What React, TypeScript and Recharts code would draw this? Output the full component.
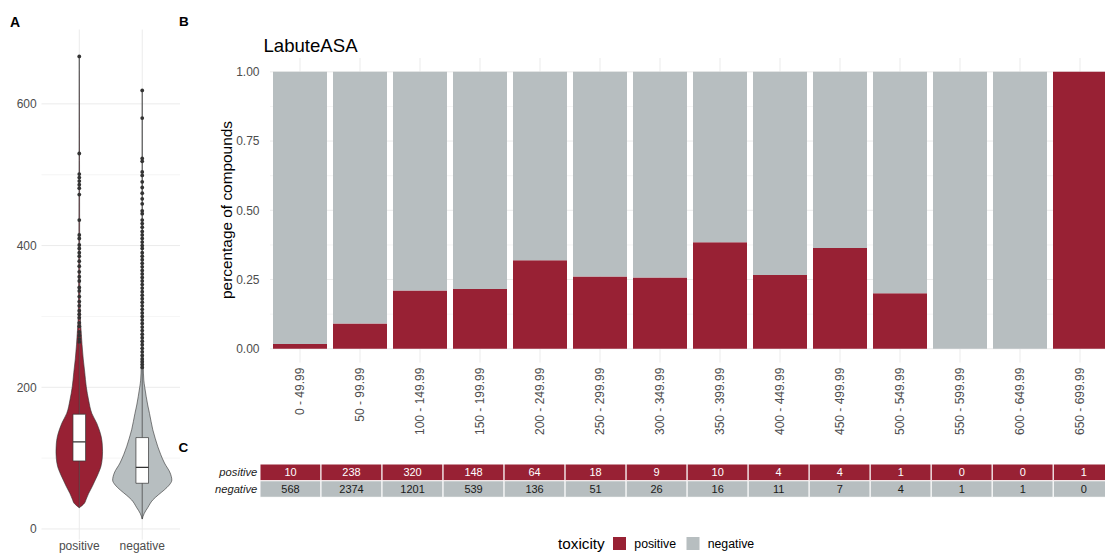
import { ScatterChart, Scatter, BarChart, Bar, XAxis, YAxis, CartesianGrid, LabelList } from "recharts"

const FONT = "'Liberation Sans', Arial, Helvetica, sans-serif"
const RED = "#982134"
const GREY = "#B7BEC0"
const GRID = "#EBEBEB"
const INK = "#333333"
const AXIS_TEXT = "#4D4D4D"

// panel B / C : LabuteASA bins and compound counts
const bins = [
  "0 - 49.99", "50 - 99.99", "100 - 149.99", "150 - 199.99", "200 - 249.99", "250 - 299.99", "300 - 349.99",
  "350 - 399.99", "400 - 449.99", "450 - 499.99", "500 - 549.99", "550 - 599.99", "600 - 649.99", "650 - 699.99",
]
const positiveCounts = [10, 238, 320, 148, 64, 18, 9, 10, 4, 4, 1, 0, 0, 1]
const negativeCounts = [568, 2374, 1201, 539, 136, 51, 26, 16, 11, 7, 4, 1, 1, 0]
const shareTicks = [0, 0.25, 0.5, 0.75, 1]
const shareMinorTicks = [0.125, 0.375, 0.625, 0.875]
const tableRows = ["negative", "positive"]

// panel A : LabuteASA distribution per toxicity class
const groups = ["positive", "negative"]
const asaTicks = [0, 200, 400, 600]
const asaMinorTicks = [100, 300, 500]

// violin profile: value -> half width (x units)
const posViolinValues = [30, 36, 42, 50, 60, 69, 80, 88, 100, 109, 120, 130, 140, 149, 163, 182, 201, 221, 240, 260, 280, 300, 350, 420, 520, 667]
const posViolinHalf = [0, 0.079, 0.11, 0.148, 0.206, 0.254, 0.31, 0.343, 0.365, 0.37, 0.365, 0.349, 0.317, 0.279, 0.2, 0.148, 0.111, 0.087, 0.063, 0.044, 0.029, 0.016, 0.01, 0.006, 0.004, 0]
const negViolinValues = [14, 22, 30, 41, 48, 55, 62, 69, 79, 93, 105, 116, 128, 140, 152, 163, 175, 187, 200, 210, 230, 260, 300, 400, 500, 619]
const negViolinHalf = [0, 0.032, 0.087, 0.168, 0.254, 0.349, 0.429, 0.47, 0.444, 0.354, 0.294, 0.248, 0.206, 0.168, 0.14, 0.116, 0.087, 0.063, 0.04, 0.025, 0.016, 0.01, 0.006, 0.005, 0.003, 0]

// lower whisker, q1, median, q3, upper whisker
const posBox = [30, 96, 123, 162, 261]
const negBox = [14, 64.5, 87, 129, 226]

const posOutliers = [
  667, 530, 501, 496, 491, 486, 481, 472, 436, 415, 410, 401, 396, 390, 385, 378, 371, 363, 356, 350,
  341, 336, 328, 321, 315, 308, 303, 298, 291, 286, 278, 273, 268, 264,
]
const negOutliers = [
  619, 580, 523, 519, 504, 499, 490, 482, 474, 466, 459, 449, 445, 436, 431, 426, 420, 415, 410, 405,
  400, 396, 390, 385, 380, 375, 370, 365, 360, 355, 350, 345, 340, 335, 330, 325, 320, 315, 310, 305,
  300, 295, 290, 285, 280, 275, 270, 265, 260, 255, 250, 245, 240, 236, 232, 228,
]

// share of each toxicity class within a bin
const shareData = bins.map((bin, i) => {
  const total = positiveCounts[i] + negativeCounts[i]
  return { bin, positive: positiveCounts[i] / total, negative: negativeCounts[i] / total }
})
const tableData = bins.map((bin, i) => ({
  bin,
  positive: positiveCounts[i],
  negative: negativeCounts[i],
  posRow: 1,
  negRow: 1,
}))

const halfOutline = (center: number, values: number[], half: number[], side: number) =>
  values.map((v, i) => ({ x: center + side * half[i], y: v }))

const boxOutline = (center: number, box: number[]) => [
  { x: center - 0.1, y: box[1] },
  { x: center + 0.1, y: box[1] },
  { x: center + 0.1, y: box[3] },
  { x: center - 0.1, y: box[3] },
  { x: center - 0.1, y: box[1] },
]

const violins = [
  { center: 1, values: posViolinValues, half: posViolinHalf, box: posBox, outliers: posOutliers, fill: RED },
  { center: 2, values: negViolinValues, half: negViolinHalf, box: negBox, outliers: negOutliers, fill: GREY },
]

const NoDot = () => <g />
const Dot = (p: any) => <circle cx={p.cx} cy={p.cy} r={1.9} fill={INK} />

function ViolinPanel() {
  return (
    <ScatterChart width={180} height={570} margin={{ top: 29.5, right: 0, bottom: 0, left: 0 }}>
      <CartesianGrid yAxisId="minor" vertical={false} stroke={GRID} strokeWidth={0.5} syncWithTicks />
      <CartesianGrid stroke={GRID} strokeWidth={1} syncWithTicks />
      <XAxis
        type="number"
        dataKey="x"
        domain={[0.4, 2.6]}
        ticks={[1, 2]}
        interval={0}
        allowDataOverflow
        tickFormatter={(v) => groups[v - 1]}
        axisLine={false}
        tickLine={false}
        tickSize={0}
        tickMargin={2}
        height={30.4}
        tick={{ fill: AXIS_TEXT, fontSize: 12 }}
      />
      <YAxis
        type="number"
        dataKey="y"
        domain={[-15, 705]}
        ticks={asaTicks}
        interval={0}
        allowDataOverflow
        width={41.5}
        axisLine={false}
        tickLine={false}
        tickSize={0}
        tickMargin={4.8}
        tick={{ fill: AXIS_TEXT, fontSize: 12 }}
      />
      <YAxis yAxisId="minor" hide type="number" domain={[-15, 705]} ticks={asaMinorTicks} allowDataOverflow />
      {violins.map((g) => [
        <Scatter
          key={`l${g.center}`}
          data={halfOutline(g.center, g.values, g.half, -1)}
          line={{ fill: g.fill, stroke: INK, strokeWidth: 0.6 }}
          lineJointType="monotoneY"
          shape={NoDot}
          isAnimationActive={false}
        />,
        <Scatter
          key={`r${g.center}`}
          data={halfOutline(g.center, g.values, g.half, 1)}
          line={{ fill: g.fill, stroke: INK, strokeWidth: 0.6 }}
          lineJointType="monotoneY"
          shape={NoDot}
          isAnimationActive={false}
        />,
      ])}
      {violins.map((g) => (
        <Scatter
          key={`w${g.center}`}
          data={[{ x: g.center, y: g.box[0] }, { x: g.center, y: g.box[4] }]}
          line={{ stroke: INK, strokeWidth: 0.7 }}
          shape={NoDot}
          isAnimationActive={false}
        />
      ))}
      {violins.map((g) => (
        <Scatter
          key={`b${g.center}`}
          data={boxOutline(g.center, g.box)}
          line={{ fill: "#FFFFFF", stroke: INK, strokeWidth: 0.7 }}
          shape={NoDot}
          isAnimationActive={false}
        />
      ))}
      {violins.map((g) => (
        <Scatter
          key={`m${g.center}`}
          data={[{ x: g.center - 0.1, y: g.box[2] }, { x: g.center + 0.1, y: g.box[2] }]}
          line={{ stroke: INK, strokeWidth: 1.3 }}
          shape={NoDot}
          isAnimationActive={false}
        />
      ))}
      {violins.map((g) => (
        <Scatter
          key={`o${g.center}`}
          data={g.outliers.map((v) => ({ x: g.center, y: v }))}
          shape={Dot}
          isAnimationActive={false}
        />
      ))}
    </ScatterChart>
  )
}

const BinTick = (props: any) => {
  const { x, y, payload } = props
  return (
    <text
      x={x}
      y={y}
      transform={`rotate(-90, ${x}, ${y})`}
      textAnchor="end"
      dy="0.35em"
      fill={AXIS_TEXT}
      fontSize={12}
    >
      {payload.value}
    </text>
  )
}

function SharePanel() {
  return (
    <BarChart
      width={930}
      height={440}
      data={shareData}
      barCategoryGap="5%"
      margin={{ top: 58, right: 0, bottom: 0, left: 0 }}
    >
      <CartesianGrid yAxisId="minor" vertical={false} stroke={GRID} strokeWidth={0.5} syncWithTicks />
      <CartesianGrid stroke={GRID} strokeWidth={1} syncWithTicks />
      <XAxis
        dataKey="bin"
        interval={0}
        height={77.4}
        axisLine={false}
        tickLine={false}
        tickSize={0}
        tickMargin={5}
        tick={BinTick}
      />
      <YAxis
        type="number"
        domain={[-0.05, 1.05]}
        ticks={shareTicks}
        interval={0}
        allowDataOverflow
        width={90}
        tickFormatter={(v) => v.toFixed(2)}
        axisLine={false}
        tickLine={false}
        tickSize={0}
        tickMargin={10.5}
        tick={{ fill: AXIS_TEXT, fontSize: 12 }}
      />
      <YAxis yAxisId="minor" hide type="number" domain={[-0.05, 1.05]} ticks={shareMinorTicks} allowDataOverflow />
      <Bar dataKey="positive" stackId="t" fill={RED} isAnimationActive={false} />
      <Bar dataKey="negative" stackId="t" fill={GREY} isAnimationActive={false} />
    </BarChart>
  )
}

function CountTable() {
  return (
    <BarChart
      width={934.3}
      height={70}
      data={tableData}
      barCategoryGap={0}
      margin={{ top: 24, right: 0, bottom: 12.7, left: 0 }}
    >
      <XAxis dataKey="bin" hide />
      <YAxis
        type="number"
        domain={[0, 2]}
        ticks={[0.5, 1.5]}
        interval={0}
        tickFormatter={(v) => tableRows[Math.floor(v)]}
        width={80}
        axisLine={false}
        tickLine={false}
        tickSize={0}
        tickMargin={2.7}
        tick={{ fill: "#1A1A1A", fontSize: 11.2, fontStyle: "italic" }}
      />
      <Bar dataKey="negRow" stackId="r" fill={GREY} stroke="#FFFFFF" strokeWidth={1} isAnimationActive={false}>
        <LabelList dataKey="negative" position="center" fill="#1A1A1A" fontSize={11} />
      </Bar>
      <Bar dataKey="posRow" stackId="r" fill={RED} stroke="#FFFFFF" strokeWidth={1} isAnimationActive={false}>
        <LabelList dataKey="positive" position="center" fill="#FFFFFF" fontSize={11} />
      </Bar>
    </BarChart>
  )
}

export default function App() {
  return (
    <div
      style={{
        position: "absolute",
        left: 0,
        top: 0,
        width: 1105,
        height: 556,
        overflow: "hidden",
        background: "#FFFFFF",
        fontFamily: FONT,
      }}
    >
      <div style={{ position: "absolute", left: 0, top: 0 }}>
        <ViolinPanel />
      </div>
      <div style={{ position: "absolute", left: 180, top: 0 }}>
        <SharePanel />
      </div>
      <div style={{ position: "absolute", left: 180, top: 440 }}>
        <CountTable />
      </div>
      <svg
        width={1105}
        height={556}
        style={{ position: "absolute", left: 0, top: 0, pointerEvents: "none" }}
        fontFamily={FONT}
      >
        <text x={10} y={26.5} fontSize={14} fontWeight="bold" fill="#000">A</text>
        <text x={179} y={25.5} fontSize={13.5} fontWeight="bold" fill="#000">B</text>
        <text x={178.5} y={451.7} fontSize={13.5} fontWeight="bold" fill="#000">C</text>
        <text x={263.5} y={51.7} fontSize={18.6} fill="#000">LabuteASA</text>
        <text transform="translate(232,210) rotate(-90)" textAnchor="middle" fontSize={15.4} fill="#000">
          percentage of compounds
        </text>
        <text x={558} y={549.3} fontSize={15.3} fill="#000">toxicity</text>
        <rect x={613} y={537} width={13} height={13} fill={RED} />
        <text x={634.3} y={548.3} fontSize={12.3} fill="#000">positive</text>
        <rect x={686.5} y={537} width={13} height={13} fill={GREY} />
        <text x={707.7} y={548.3} fontSize={12.3} fill="#000">negative</text>
      </svg>
    </div>
  )
}
